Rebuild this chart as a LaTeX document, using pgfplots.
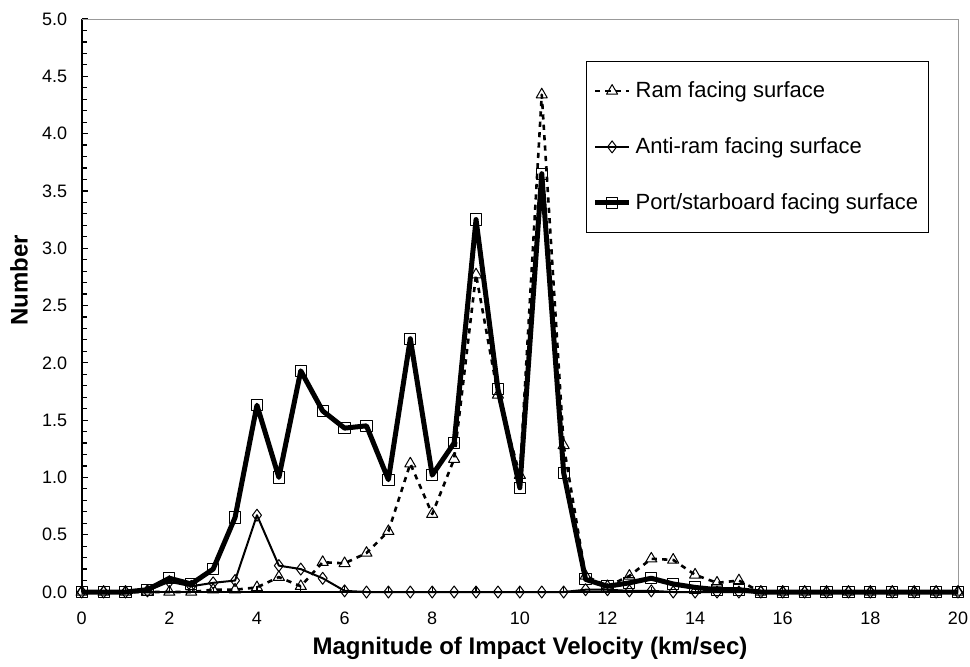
\documentclass[border=0pt]{standalone}
\usepackage{fontspec}
\setmainfont{Liberation Sans}
\usepackage{pgfplots}
\pgfplotsset{compat=1.18}
\usepackage{pgfplotstable}

\pgfplotstableread{
x ram anti port
0 0 0 0
0.5 0 0 0
1 0 0 0
1.5 0 0.01 0.02
2 0 0.09 0.12
2.5 0 0.05 0.07
3 0.02 0.08 0.20
3.5 0.02 0.10 0.65
4 0.04 0.67 1.63
4.5 0.13 0.23 1.00
5 0.05 0.20 1.93
5.5 0.26 0.12 1.58
6 0.25 0.01 1.43
6.5 0.34 0 1.45
7 0.53 0 0.98
7.5 1.12 0 2.21
8 0.68 0 1.02
8.5 1.16 0 1.30
9 2.77 0 3.25
9.5 1.72 0 1.77
10 1.02 0 0.91
10.5 4.34 0 3.65
11 1.28 0 1.04
11.5 0.14 0.02 0.11
12 0.05 0.02 0.05
12.5 0.14 0.01 0.08
13 0.29 0.01 0.12
13.5 0.28 0 0.07
14 0.15 0 0.04
14.5 0.08 0 0.02
15 0.10 0 0.02
15.5 0 0 0
16 0 0 0
16.5 0 0 0
17 0 0 0
17.5 0 0 0
18 0 0 0
18.5 0 0 0
19 0 0 0
19.5 0 0 0
20 0 0 0
}\datatable

\begin{document}
\begin{tikzpicture}
\useasboundingbox (0,0) rectangle (485pt,333pt);
\begin{axis}[
  at={(40.85pt,37pt)}, anchor=south west,
  scale only axis, width=438.15pt, height=286.5pt,
  xmin=0, xmax=20, ymin=0, ymax=5,
  axis lines*=left,
  axis line style={black, line width=0.8pt},
  xtick={0,2,...,20}, minor xtick={1,3,...,19},
  ytick={0,0.5,...,5}, minor ytick={0.1,0.2,0.3,0.4,0.6,0.7,0.8,0.9,1.1,1.2,1.3,1.4,1.6,1.7,1.8,1.9,2.1,2.2,2.3,2.4,2.6,2.7,2.8,2.9,3.1,3.2,3.3,3.4,3.6,3.7,3.8,3.9,4.1,4.2,4.3,4.4,4.6,4.7,4.8,4.9},
  tick align=inside,
  major tick length=3.2pt, minor tick length=2.6pt,
  tick style={black, line width=0.6pt},
  /pgf/number format/assume math mode=true,
  tick label style={font=\fontsize{9}{10}\selectfont},
  yticklabel style={/pgf/number format/fixed, /pgf/number format/fixed zerofill, /pgf/number format/precision=1, xshift=-3.8pt},
  xticklabel style={yshift=-6.5pt},
  clip=false,
  legend cell align=left,
  legend style={at={(0.5755,0.9267)}, anchor=north west, draw=black, line width=0.5pt,
    font=\fontsize{11}{13}\selectfont, inner xsep=3pt, inner ysep=8pt, row sep=14.5pt},
]
\addplot[black, line width=1.3pt, line join=round, dash pattern=on 2.6pt off 2.6pt,
  mark=triangle, mark size=3.2pt, mark options={solid, line width=0.5pt, fill=none}]
  table[x=x, y=ram] {\datatable};
\addlegendentry{Ram facing surface}
\addplot[black, line width=1pt, line join=round,
  mark=diamond, mark size=3pt, mark options={solid, line width=0.5pt, fill=none}]
  table[x=x, y=anti] {\datatable};
\addlegendentry{Anti-ram facing surface}
\addplot[black, line width=2.5pt, line join=round,
  mark=square, mark size=2.8pt, mark options={solid, line width=0.5pt, fill=none}]
  table[x=x, y=port] {\datatable};
\addlegendentry{Port/starboard facing surface}
\draw[gray!80, line width=0.5pt] (rel axis cs:0,1) -- (rel axis cs:1,1) -- (rel axis cs:1,0);
\end{axis}
\node[font=\bfseries\fontsize{12}{14}\selectfont, rotate=90] at (9.5pt,193pt) {Number};
\node[font=\bfseries\fontsize{12}{14}\selectfont] at (265pt,9pt) {Magnitude of Impact Velocity (km/sec)};
\end{tikzpicture}
\end{document}
